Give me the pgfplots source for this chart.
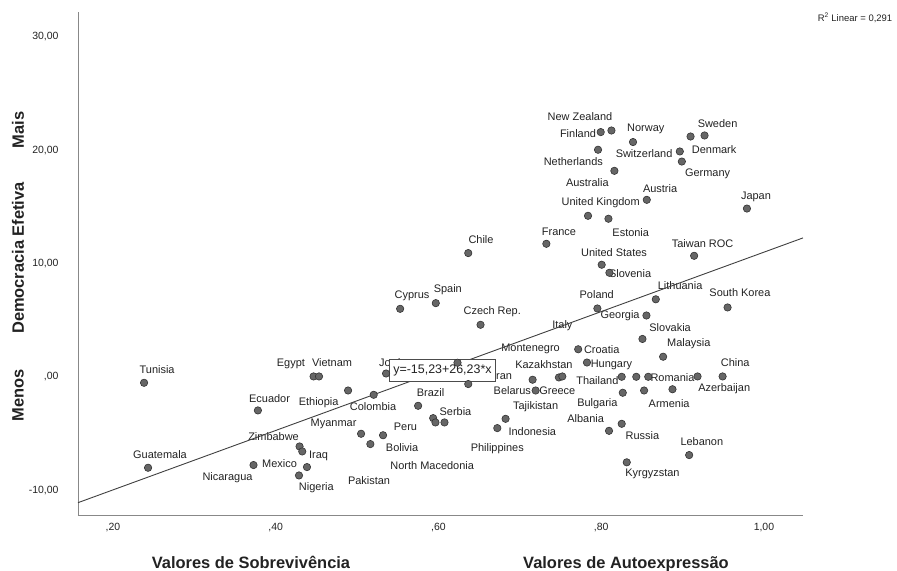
\documentclass[border=0pt]{standalone}
\usepackage{pgfplots}
\pgfplotsset{compat=1.18}
\usepackage{fontspec}
\setmainfont{Liberation Sans}

\definecolor{dotfill}{HTML}{666666}
\definecolor{dotedge}{HTML}{333333}
\definecolor{axisgray}{HTML}{888888}
\definecolor{fitline}{HTML}{404040}
\definecolor{labeltext}{HTML}{222222}

\tikzset{
  lbl/.style={font=\fontsize{11}{13}\selectfont, text=labeltext, inner sep=0pt, anchor=center},
  axtitle/.style={font=\bfseries\fontsize{16.5}{18}\selectfont, text=labeltext, inner sep=0pt},
}

% Survival/self-expression index (x) against effective democracy (y), one row per country
\pgfplotstableread{
x      y
0.2382 -0.53
0.2431 -8.03
0.3781 -2.97
0.4465 0.03
0.4532 0.03
0.4889 -1.21
0.5204 -1.59
0.5049 -5.03
0.5163 -5.94
0.5319 -5.16
0.4293 -6.15
0.4326 -6.59
0.4384 -7.97
0.4286 -8.71
0.3727 -7.79
0.5356 0.29
0.6234 1.24
0.6366 -0.64
0.5750 -2.56
0.5935 -3.65
0.5963 -4.03
0.6074 -4.03
0.6825 -3.71
0.6723 -4.53
0.6366 10.92
0.5967 6.50
0.5529 6.00
0.6517 4.59
0.7157 -0.26
0.7480 -0.06
0.7522 0.03
0.7194 -1.21
0.7717 2.43
0.7825 1.26
0.7953 6.03
0.8556 5.41
0.8671 6.84
0.9553 6.12
0.8507 3.34
0.8761 1.77
0.8252 0.00
0.8431 0.00
0.8578 0.00
0.9184 0.03
0.9492 0.03
0.8265 -1.41
0.8527 -1.21
0.8876 -1.10
0.8096 -4.77
0.8252 -4.15
0.9081 -6.91
0.8314 -7.55
0.7326 11.74
0.7838 14.21
0.8089 13.95
0.8560 15.62
0.9791 14.85
0.9142 10.68
0.8006 9.89
0.8101 9.18
0.8162 18.18
0.7961 20.04
0.7994 21.60
0.8126 21.74
0.8391 20.72
0.8966 19.89
0.8991 19.00
0.9098 21.21
0.9270 21.30
}\countries

\begin{document}
\begin{tikzpicture}
\useasboundingbox (-78bp,-56bp) rectangle (819bp,515bp);
\begin{axis}[
  scale only axis, width=725bp, height=503bp,
  xmin=0.157, xmax=1.048, ymin=-12.2, ymax=32.2,
  axis x line*=bottom, axis y line*=left,
  axis line style={axisgray, line width=0.8bp, -},
  xtick={0.2,0.4,0.6,0.8,1.0},
  xticklabels={{,20},{,40},{,60},{,80},{1,00}},
  ytick={-10,0,10,20,30},
  yticklabels={{-10,00},{,00},{10,00},{20,00},{30,00}},
  major tick length=0pt,
  /pgf/number format/assume math mode=true,
  tick label style={font=\fontsize{10.5}{12}\selectfont, text=labeltext},
  yticklabel style={xshift=-16bp},
  xticklabel style={yshift=-5bp},
  clip=false,
]
\addplot[only marks, mark=*, mark size=3.7bp,
  mark options={fill=dotfill, draw=dotedge, line width=0.6bp}] table {\countries};

\node[lbl] at (axis cs:0.2542,0.62) {Tunisia};
\node[lbl] at (axis cs:0.2578,-6.88) {Guatemala};
\node[lbl] at (axis cs:0.3924,-1.88) {Ecuador};
\node[lbl] at (axis cs:0.4187,1.12) {Egypt};
\node[lbl] at (axis cs:0.4692,1.21) {Vietnam};
\node[lbl] at (axis cs:0.4527,-2.27) {Ethiopia};
\node[lbl] at (axis cs:0.5196,-2.67) {Colombia};
\node[lbl] at (axis cs:0.4711,-4.17) {Myanmar};
\node[lbl] at (axis cs:0.5594,-4.39) {Peru};
\node[lbl] at (axis cs:0.5553,-6.24) {Bolivia};
\node[lbl] at (axis cs:0.5923,-7.86) {North Macedonia};
\node[lbl] at (axis cs:0.5147,-9.18) {Pakistan};
\node[lbl] at (axis cs:0.3973,-5.27) {Zimbabwe};
\node[lbl] at (axis cs:0.4527,-6.97) {Iraq};
\node[lbl] at (axis cs:0.4047,-7.62) {Mexico};
\node[lbl] at (axis cs:0.3407,-8.94) {Nicaragua};
\node[lbl] at (axis cs:0.4499,-9.80) {Nigeria};
\node[lbl] at (axis cs:0.5477,1.24) {Jordan};
\node[lbl] at (axis cs:0.6788,0.09) {Iran};
\node[lbl] at (axis cs:0.5902,-1.41) {Brazil};
\node[lbl] at (axis cs:0.6209,-3.04) {Serbia};
\node[lbl] at (axis cs:0.6523,12.14) {Chile};
\node[lbl] at (axis cs:0.6115,7.68) {Spain};
\node[lbl] at (axis cs:0.5676,7.15) {Cyprus};
\node[lbl] at (axis cs:0.6661,5.76) {Czech Rep.};
\node[lbl] at (axis cs:0.7132,2.44) {Montenegro};
\node[lbl] at (axis cs:0.7523,4.50) {Italy};
\node[lbl] at (axis cs:0.7296,1.06) {Kazakhstan};
\node[lbl] at (axis cs:0.8006,2.38) {Croatia};
\node[lbl] at (axis cs:0.8126,1.06) {Hungary};
\node[lbl] at (axis cs:0.7953,-0.35) {Thailand};
\node[lbl] at (axis cs:0.6907,-1.21) {Belarus};
\node[lbl] at (axis cs:0.7461,-1.21) {Greece};
\node[lbl] at (axis cs:0.7194,-2.67) {Tajikistan};
\node[lbl] at (axis cs:0.7153,-4.83) {Indonesia};
\node[lbl] at (axis cs:0.6723,-6.35) {Philippines};
\node[lbl] at (axis cs:0.7953,-2.38) {Bulgaria};
\node[lbl] at (axis cs:0.7809,-3.73) {Albania};
\node[lbl] at (axis cs:0.8507,-5.21) {Russia};
\node[lbl] at (axis cs:0.8630,-8.59) {Kyrgyzstan};
\node[lbl] at (axis cs:0.9237,-5.76) {Lebanon};
\node[lbl] at (axis cs:0.8835,-2.38) {Armenia};
\node[lbl] at (axis cs:0.9512,-1.03) {Azerbaijan};
\node[lbl] at (axis cs:0.8876,-0.06) {Romania};
\node[lbl] at (axis cs:0.9647,1.26) {China};
\node[lbl] at (axis cs:0.9077,2.91) {Malaysia};
\node[lbl] at (axis cs:0.8847,4.30) {Slovakia};
\node[lbl] at (axis cs:0.8232,5.41) {Georgia};
\node[lbl] at (axis cs:0.7945,7.24) {Poland};
\node[lbl] at (axis cs:0.8970,8.01) {Lithuania};
\node[lbl] at (axis cs:0.9705,7.39) {South Korea};
\node[lbl] at (axis cs:0.8355,9.15) {Slovenia};
\node[lbl] at (axis cs:0.8158,10.92) {United States};
\node[lbl] at (axis cs:0.9246,11.74) {Taiwan ROC};
\node[lbl] at (axis cs:0.7481,12.82) {France};
\node[lbl] at (axis cs:0.8363,12.77) {Estonia};
\node[lbl] at (axis cs:0.7994,15.33) {United Kingdom};
\node[lbl] at (axis cs:0.8724,16.65) {Austria};
\node[lbl] at (axis cs:0.9902,15.91) {Japan};
\node[lbl] at (axis cs:0.7830,17.10) {Australia};
\node[lbl] at (axis cs:0.9307,17.92) {Germany};
\node[lbl] at (axis cs:0.7658,19.00) {Netherlands};
\node[lbl] at (axis cs:0.8527,19.68) {Switzerland};
\node[lbl] at (axis cs:0.9388,20.04) {Denmark};
\node[lbl] at (axis cs:0.7715,21.51) {Finland};
\node[lbl] at (axis cs:0.8548,21.86) {Norway};
\node[lbl] at (axis cs:0.7739,22.97) {New Zealand};
\node[lbl] at (axis cs:0.9430,22.39) {Sweden};

% linear fit y = -15.23 + 26.23 x across the x range
\addplot[fitline, line width=0.9bp] coordinates {(0.157,-11.112) (1.048,12.259)};

\node[draw=black!70, fill=white, line width=0.8bp, inner xsep=3.5bp, inner ysep=0pt,
  minimum height=22bp, font=\fontsize{12.5}{14}\selectfont, text=labeltext]
  at (axis cs:0.6049,0.53) {y=-15,23+26,23*x};
\end{axis}

\node[font=\fontsize{9.5}{11}\selectfont, text=labeltext] at (777bp,497bp) {R\textsuperscript{2} Linear = 0,291};

\node[axtitle, anchor=base] at (173bp,-53bp) {Valores de Sobrevivência};
\node[axtitle, anchor=base] at (548bp,-53bp) {Valores de Autoexpressão};

\node[axtitle, rotate=90] at (-60bp,120bp) {Menos};
\node[axtitle, rotate=90] at (-60bp,257bp) {Democracia Efetiva};
\node[axtitle, rotate=90] at (-60bp,385bp) {Mais};
\end{tikzpicture}
\end{document}
